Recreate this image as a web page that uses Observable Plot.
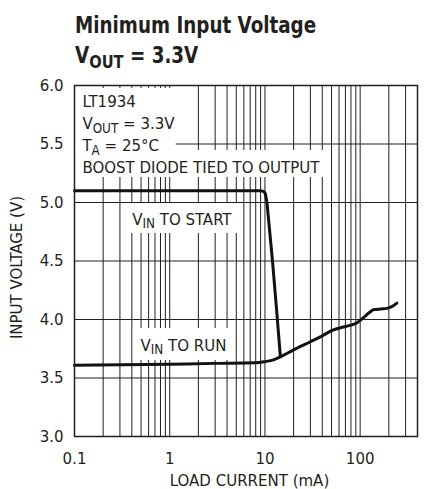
<!DOCTYPE html>
<html><head><meta charset="utf-8">
<script src="https://cdn.jsdelivr.net/npm/d3@7"></script>
<script src="https://cdn.jsdelivr.net/npm/@observablehq/plot@0.6"></script>
<style>
body{margin:0;background:#fff;width:428px;height:489px;overflow:hidden;font-family:"DejaVu Sans Condensed","Liberation Sans Narrow",sans-serif;color:#231f20;}
#title{position:relative;height:75px;}
#title .l{position:absolute;left:75px;font-weight:bold;font-size:22.5px;line-height:22.5px;white-space:nowrap;transform:scaleX(0.905);transform-origin:0 0;}
#title .s{font-size:0.8em;position:relative;top:0.3em;}
#chart svg{display:block;}
</style></head><body>
<div id="title">
  <div class="l" style="top:14px">Minimum Input Voltage</div>
  <div class="l" style="top:44px">V<span class="s">OUT</span> = 3.3V</div>
</div>
<div id="chart"></div>
<script>
// ---- data ----
const startCurrent = [0.1, 1, 5, 9.0, 9.7, 10.1, 10.5, 12.0, 13.2, 14.5];
const startVoltage = [5.10, 5.10, 5.10, 5.10, 5.095, 5.075, 5.0, 4.5, 4.1, 3.69];
const runCurrent = [0.1, 1, 3, 8, 10, 12.3, 14.5, 20, 30, 40, 50, 70, 92, 110, 125, 140, 165, 190, 215, 243];
const runVoltage = [3.61, 3.618, 3.625, 3.63, 3.64, 3.655, 3.68, 3.74, 3.81, 3.86, 3.905, 3.94, 3.97, 4.02, 4.06, 4.085, 4.09, 4.095, 4.11, 4.14];
const xTickValues = [0.1, 1, 10, 100];
const xTickLabels = ["0.1", "1", "10", "100"];
const yTickValues = [3.0, 3.5, 4.0, 4.5, 5.0, 5.5, 6.0];
const xGridValues = [0.2,0.3,0.4,0.5,0.6,0.7,0.8,0.9,1,2,3,4,5,6,7,8,9,10,20,30,40,50,60,70,80,90,100,200,300];
const yGridValues = [3.5, 4.0, 4.5, 5.0, 5.5];
const noteTexts = ["LT1934", "V{OUT} = 3.3V", "T{A} = 25°C", "BOOST DIODE TIED TO OUTPUT"];
const curveLabels = ["V{IN} TO START", "V{IN} TO RUN"];

const startData = startCurrent.map((c, i) => ({c, v: startVoltage[i]}));
const runData = runCurrent.map((c, i) => ({c, v: runVoltage[i]}));

const INK = "#231f20";
const FONT = '"DejaVu Sans Condensed","Liberation Sans Narrow",sans-serif';
const FS = 16.7;

// annotation layout (label backgrounds and label anchors)
const boxes = [
  {x1: 0.1, x2: 1.9, y1: 5.556, y2: 5.975},
  {x1: 0.1, x2: 1.17, y1: 5.40, y2: 5.556},
  {x1: 0.1, x2: 44, y1: 5.214, y2: 5.444},
  {x1: 0.36, x2: 5.5, y1: 4.735, y2: 4.99},
  {x1: 0.415, x2: 4.66, y1: 3.65, y2: 3.923}
];
const notes = noteTexts.map((t, i) => ({t, x: 0.121, y: [5.812, 5.624, 5.436, 5.256][i]}));
const labels = curveLabels.map((t, i) => ({t, x: [0.403, 0.493][i], y: [4.809, 3.735][i]}));

const chart = Plot.plot({
  width: 428,
  height: 414,
  marginLeft: 74,
  marginRight: 11,
  marginTop: 10,
  marginBottom: 53,
  style: {fontFamily: FONT, fontSize: FS + "px", color: INK, background: "white"},
  x: {type: "log", domain: [0.1, 400]},
  y: {domain: [3, 6]},
  marks: [
    Plot.ruleX(xGridValues, {stroke: INK, strokeWidth: 1}),
    Plot.ruleY(yGridValues, {stroke: INK, strokeWidth: 1}),
    Plot.rect(boxes, {x1: "x1", x2: "x2", y1: "y1", y2: "y2", fill: "white"}),
    Plot.line(startData, {x: "c", y: "v", stroke: "#111", strokeWidth: 3, curve: "linear", strokeLinejoin: "round"}),
    Plot.line(runData, {x: "c", y: "v", stroke: "#111", strokeWidth: 3, curve: "monotone-x"}),
    Plot.text(notes, {x: "x", y: "y", text: "t", textAnchor: "start", lineAnchor: "bottom", fill: INK, fontSize: FS}),
    Plot.text(labels, {x: "x", y: "y", text: "t", textAnchor: "start", lineAnchor: "bottom", fill: INK, fontSize: FS}),
    Plot.frame({stroke: INK, strokeWidth: 1.5}),
    Plot.axisX({ticks: xTickValues, tickFormat: (d) => xTickLabels[xTickValues.indexOf(d)], tickSize: 0, tickPadding: 16, label: null, fontSize: FS}),
    Plot.axisY({ticks: yTickValues, tickFormat: (d) => d.toFixed(1), tickSize: 0, tickPadding: 11, label: null, fontSize: FS}),
    Plot.text(["LOAD CURRENT (mA)"], {frameAnchor: "bottom", textAnchor: "middle", dx: 3.5, dy: 49.5, lineAnchor: "bottom", fill: INK, fontSize: FS}),
    Plot.text(["INPUT VOLTAGE (V)"], {frameAnchor: "left", textAnchor: "middle", rotate: -90, dx: -52.5, dy: 6.5, lineAnchor: "bottom", fill: INK, fontSize: FS})
  ]
});

// render {..} as subscripts
d3.select(chart).selectAll("text").each(function () {
  const t = this.textContent;
  if (!t.includes("{")) return;
  const parts = t.split(/(\{[^}]*\})/).filter(p => p);
  const sel = d3.select(this);
  sel.text(null);
  let pending = 0;
  parts.forEach(p => {
    if (p.startsWith("{")) {
      sel.append("tspan").attr("font-size", "0.8em").attr("dy", "3.5").text(p.slice(1, -1));
      pending = -3.5;
    } else {
      const ts = sel.append("tspan").text(p);
      if (pending) ts.attr("dy", pending);
      pending = 0;
    }
  });
});

document.getElementById("chart").appendChild(chart);
</script>
</body></html>
